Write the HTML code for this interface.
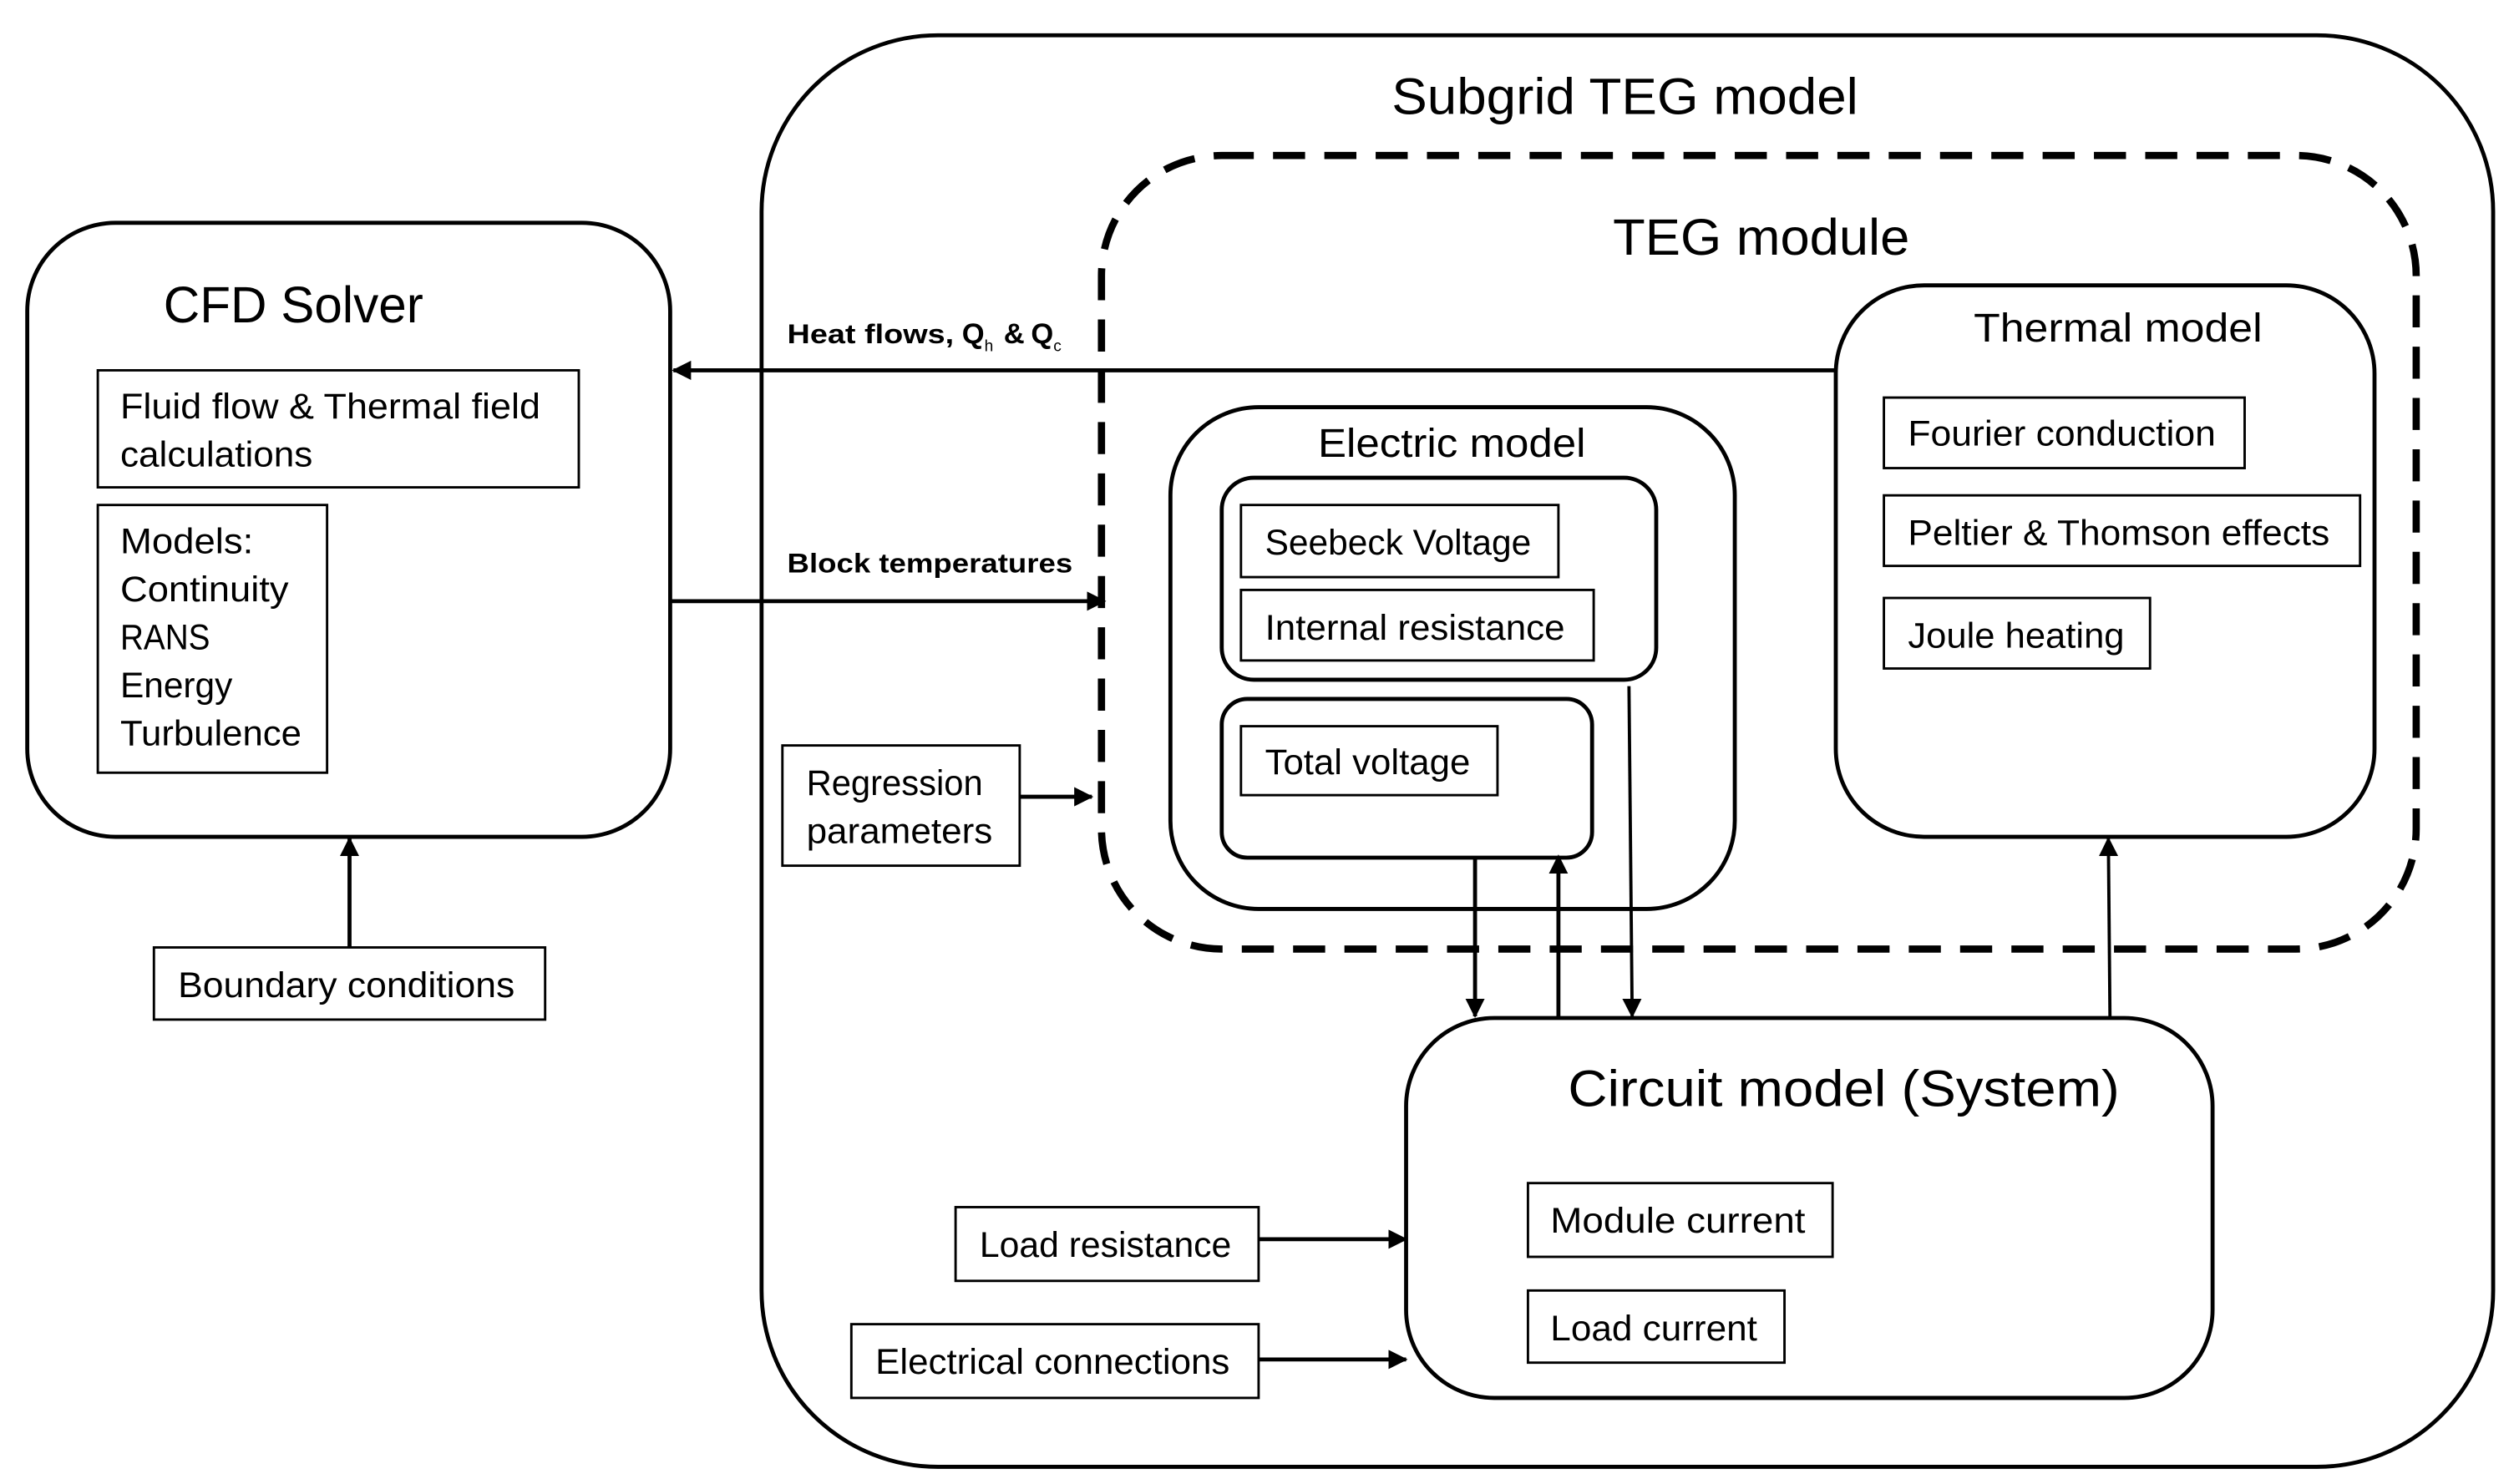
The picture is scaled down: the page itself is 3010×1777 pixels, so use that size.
<!DOCTYPE html>
<html><head><meta charset="utf-8"><style>
html,body{margin:0;padding:0;background:#fff;}
svg{display:block;}
text{font-family:"Liberation Sans",sans-serif;fill:#000;}
</style></head><body>
<svg width="3010" height="1777" viewBox="0 0 1568 925.7" preserveAspectRatio="none" xmlns="http://www.w3.org/2000/svg">
<defs>
<marker id="ah" markerWidth="12" markerHeight="12" refX="11" refY="6" orient="auto" markerUnits="userSpaceOnUse">
<path d="M0,0 L12,6 L0,12 Z" fill="#000"/></marker>
</defs>
<g fill="none" stroke="#000">
<rect x="475" y="22" width="1080" height="893" rx="110" stroke-width="2.5"/>
<rect x="687" y="97" width="820" height="495" rx="75" stroke-width="4.5" stroke-dasharray="20 12"/>
<rect x="17" y="139" width="401" height="383" rx="55" stroke-width="2.5"/>
<rect x="61" y="231" width="300" height="73" stroke-width="1.5"/>
<rect x="61" y="315" width="143" height="167" stroke-width="1.5"/>
<rect x="1145" y="178" width="336" height="344" rx="55" stroke-width="2.5"/>
<rect x="1175" y="248" width="225" height="44" stroke-width="1.5"/>
<rect x="1175" y="309" width="297" height="44" stroke-width="1.5"/>
<rect x="1175" y="373" width="166" height="44" stroke-width="1.5"/>
<rect x="730" y="254" width="352" height="313" rx="55" stroke-width="2.5"/>
<rect x="762" y="298" width="271" height="126" rx="20" stroke-width="2.5"/>
<rect x="774" y="315" width="198" height="45" stroke-width="1.5"/>
<rect x="774" y="368" width="220" height="44" stroke-width="1.5"/>
<rect x="762" y="436" width="231" height="99" rx="16" stroke-width="2.5"/>
<rect x="774" y="453" width="160" height="43" stroke-width="1.5"/>
<rect x="877" y="635" width="503" height="237" rx="55" stroke-width="2.5"/>
<rect x="953" y="738" width="190" height="46" stroke-width="1.5"/>
<rect x="953" y="805" width="160" height="45" stroke-width="1.5"/>
<rect x="596" y="753" width="189" height="46" stroke-width="1.5"/>
<rect x="531" y="826" width="254" height="46" stroke-width="1.5"/>
<rect x="488" y="465" width="148" height="75" stroke-width="1.5"/>
<rect x="96" y="591" width="244" height="45" stroke-width="1.5"/>
<line x1="1145" y1="231" x2="420" y2="231" stroke-width="2.5" marker-end="url(#ah)"/>
<line x1="418" y1="375" x2="689" y2="375" stroke-width="2.5" marker-end="url(#ah)"/>
<line x1="636" y1="497" x2="681" y2="497" stroke-width="2.5" marker-end="url(#ah)"/>
<line x1="218" y1="591" x2="218" y2="523" stroke-width="2.5" marker-end="url(#ah)"/>
<line x1="785" y1="773" x2="877" y2="773" stroke-width="2.5" marker-end="url(#ah)"/>
<line x1="785" y1="848" x2="877" y2="848" stroke-width="2.5" marker-end="url(#ah)"/>
<line x1="920" y1="535" x2="920" y2="634" stroke-width="2.5" marker-end="url(#ah)"/>
<line x1="972" y1="634" x2="972" y2="534" stroke-width="2.5" marker-end="url(#ah)"/>
<line x1="1016" y1="428" x2="1018" y2="634" stroke-width="2" marker-end="url(#ah)"/>
<line x1="1316" y1="634" x2="1315" y2="523" stroke-width="2" marker-end="url(#ah)"/>
</g>
<g font-size="22">
<text x="102" y="201" font-size="32" textLength="162" lengthAdjust="spacingAndGlyphs">CFD Solver</text>
<text x="75" y="261" textLength="262" lengthAdjust="spacingAndGlyphs">Fluid flow &amp; Thermal field</text>
<text x="75" y="291" textLength="120" lengthAdjust="spacingAndGlyphs">calculations</text>
<text x="75" y="345" textLength="83" lengthAdjust="spacingAndGlyphs">Models:</text>
<text x="75" y="375" textLength="105" lengthAdjust="spacingAndGlyphs">Continuity</text>
<text x="75" y="405" textLength="56" lengthAdjust="spacingAndGlyphs">RANS</text>
<text x="75" y="435" textLength="70" lengthAdjust="spacingAndGlyphs">Energy</text>
<text x="75" y="465" textLength="113" lengthAdjust="spacingAndGlyphs">Turbulence</text>
<text x="868" y="71" font-size="32" textLength="291" lengthAdjust="spacingAndGlyphs">Subgrid TEG model</text>
<text x="1006" y="159" font-size="32" textLength="185" lengthAdjust="spacingAndGlyphs">TEG module</text>
<text x="1231" y="213" font-size="25" textLength="180" lengthAdjust="spacingAndGlyphs">Thermal model</text>
<text x="1190" y="278" textLength="192" lengthAdjust="spacingAndGlyphs">Fourier conduction</text>
<text x="1190" y="340" textLength="263" lengthAdjust="spacingAndGlyphs">Peltier &amp; Thomson effects</text>
<text x="1190" y="404" textLength="135" lengthAdjust="spacingAndGlyphs">Joule heating</text>
<text x="822" y="285" font-size="25" textLength="167" lengthAdjust="spacingAndGlyphs">Electric model</text>
<text x="789" y="346" textLength="166" lengthAdjust="spacingAndGlyphs">Seebeck Voltage</text>
<text x="789" y="399" textLength="187" lengthAdjust="spacingAndGlyphs">Internal resistance</text>
<text x="789" y="483" textLength="128" lengthAdjust="spacingAndGlyphs">Total voltage</text>
<text x="978" y="690" font-size="32" textLength="344" lengthAdjust="spacingAndGlyphs">Circuit model (System)</text>
<text x="967" y="769" textLength="159" lengthAdjust="spacingAndGlyphs">Module current</text>
<text x="967" y="836" textLength="129" lengthAdjust="spacingAndGlyphs">Load current</text>
<text x="611" y="784" textLength="157" lengthAdjust="spacingAndGlyphs">Load resistance</text>
<text x="546" y="857" textLength="221" lengthAdjust="spacingAndGlyphs">Electrical connections</text>
<text x="503" y="496" textLength="110" lengthAdjust="spacingAndGlyphs">Regression</text>
<text x="503" y="526" textLength="116" lengthAdjust="spacingAndGlyphs">parameters</text>
<text x="111" y="622" textLength="210" lengthAdjust="spacingAndGlyphs">Boundary conditions</text>
</g>
<g font-size="17" font-weight="bold">
<text x="491" y="214" textLength="104" lengthAdjust="spacingAndGlyphs">Heat flows,</text>
<text x="600" y="214" font-size="18">Q</text>
<text x="614" y="219" font-size="10" font-weight="normal">h</text>
<text x="626" y="214" font-size="18">&amp;</text>
<text x="643" y="214" font-size="18">Q</text>
<text x="657" y="219" font-size="10" font-weight="normal">c</text>
<text x="491" y="357" textLength="178" lengthAdjust="spacingAndGlyphs">Block temperatures</text>
</g>
</svg>
</body></html>
